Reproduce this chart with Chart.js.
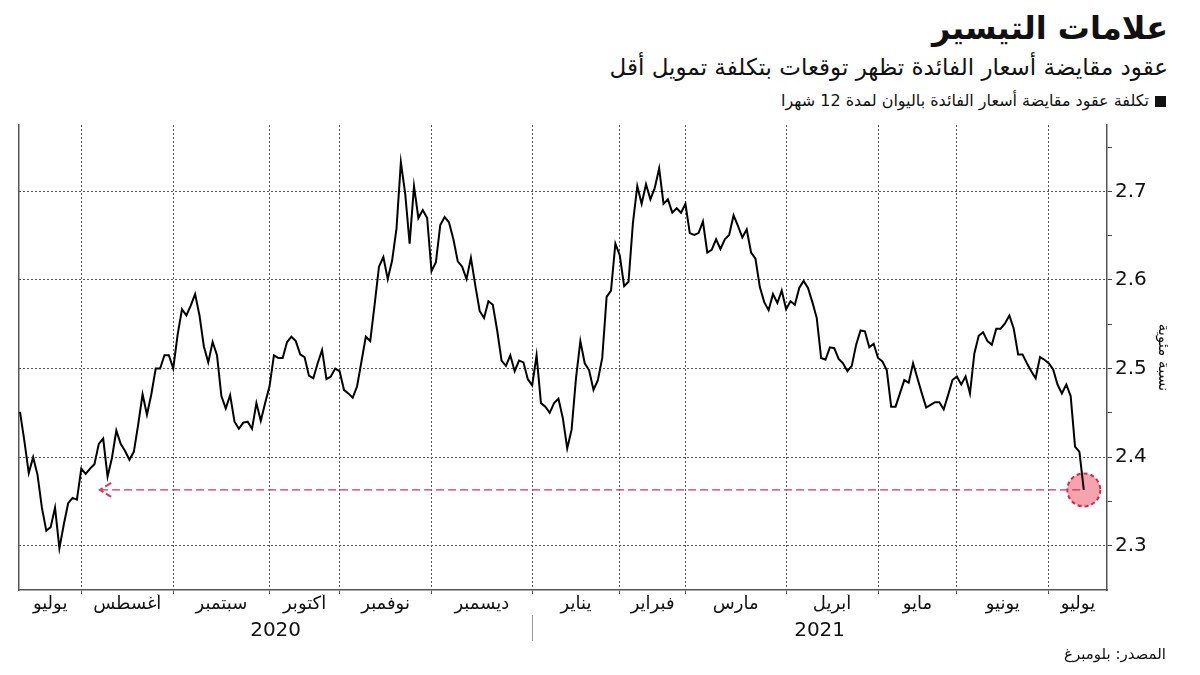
<!DOCTYPE html>
<html lang="ar">
<head>
<meta charset="utf-8">
<script src="https://cdn.jsdelivr.net/npm/chart.js@4.4.0/dist/chart.umd.min.js"></script>
<style>
  html, body { margin: 0; padding: 0; background: #fff; }
  body { width: 1200px; height: 675px; position: relative; overflow: hidden; font-family: 'DejaVu Sans', sans-serif; color: #111; }
  #chart { position: absolute; left: 0; top: 0; }
  .hdr { position: absolute; right: 32px; direction: rtl; text-align: right; white-space: nowrap; }
  #title { top: 9px; font-size: 32px; font-weight: bold; }
  #subtitle { top: 54px; font-size: 23px; }
  #legend { top: 91px; font-size: 16px; right: 34px; }
  #legend .sq { display: inline-block; width: 11px; height: 11px; background: #111; margin-left: 6px; vertical-align: -1px; }
  #source { top: 645px; font-size: 15px; right: 34px; }
</style>
</head>
<body>
<div class="hdr" id="title">علامات التيسير</div>
<div class="hdr" id="subtitle">عقود مقايضة أسعار الفائدة تظهر توقعات بتكلفة تمويل أقل</div>
<div class="hdr" id="legend"><span class="sq"></span>تكلفة عقود مقايضة أسعار الفائدة باليوان لمدة 12 شهرا</div>
<canvas id="chart" width="1200" height="675"></canvas>
<div class="hdr" id="source">المصدر: بلومبرغ</div>

<script>
// Data (one value per trading day, Jul 2020 - Jul 2021)
const monthNames = ['يوليو', 'أغسطس', 'سبتمبر', 'أكتوبر', 'نوفمبر', 'ديسمبر', 'يناير', 'فبراير', 'مارس', 'أبريل', 'مايو', 'يونيو', 'يوليو'];
const yearLabels = ['2020', '2021'];
// trading-day index where each month (Aug 2020 .. Jul 2021) starts
const monthStarts = [14, 35, 57, 73, 94, 117, 137, 152, 175, 196, 214, 235];
const yearStartIndex = 5; // January in monthStarts
const yMajor = [2.3, 2.4, 2.5, 2.6, 2.7];
const yMinor = [2.35, 2.45, 2.55, 2.65, 2.75];
const swapRates = [
    2.451, 2.418, 2.382, 2.400, 2.380, 2.343, 2.317, 2.321, 2.343, 2.297,
    2.324, 2.348, 2.354, 2.352, 2.387, 2.381, 2.387, 2.392, 2.415, 2.421,
    2.378, 2.399, 2.430, 2.415, 2.407, 2.397, 2.406, 2.437, 2.471, 2.448,
    2.471, 2.500, 2.500, 2.515, 2.515, 2.500, 2.538, 2.567, 2.560, 2.571,
    2.584, 2.560, 2.525, 2.507, 2.530, 2.515, 2.469, 2.455, 2.470, 2.440,
    2.432, 2.439, 2.440, 2.432, 2.461, 2.441, 2.461, 2.480, 2.515, 2.512,
    2.512, 2.530, 2.536, 2.531, 2.516, 2.513, 2.492, 2.489, 2.506, 2.521,
    2.488, 2.491, 2.500, 2.497, 2.476, 2.472, 2.467, 2.480, 2.508, 2.536,
    2.531, 2.572, 2.615, 2.626, 2.601, 2.622, 2.658, 2.733, 2.697, 2.641,
    2.706, 2.670, 2.679, 2.670, 2.610, 2.620, 2.662, 2.671, 2.665,
    2.646, 2.621, 2.615, 2.601, 2.625, 2.594, 2.565, 2.557, 2.576, 2.572,
    2.543, 2.509, 2.503, 2.515, 2.497, 2.509, 2.507, 2.488, 2.481, 2.515,
    2.461, 2.457, 2.450, 2.461, 2.466, 2.444, 2.410, 2.431, 2.489, 2.531,
    2.506, 2.498, 2.476, 2.487, 2.512, 2.581, 2.588, 2.641, 2.628, 2.593,
    2.598, 2.664, 2.706, 2.686, 2.708, 2.691, 2.704, 2.726, 2.686,
    2.691, 2.676, 2.681, 2.676, 2.686, 2.653, 2.651, 2.653, 2.666, 2.631,
    2.634, 2.646, 2.635, 2.646, 2.651, 2.673, 2.661, 2.648, 2.657, 2.631,
    2.624, 2.592, 2.575, 2.566, 2.584, 2.574, 2.588, 2.567, 2.576, 2.572,
    2.591, 2.599, 2.591, 2.575, 2.557, 2.512, 2.510, 2.524, 2.523, 2.511,
    2.506, 2.497, 2.503, 2.527, 2.543, 2.542, 2.524, 2.528, 2.512,
    2.508, 2.498, 2.457, 2.457, 2.472, 2.487, 2.484, 2.506, 2.489, 2.472,
    2.456, 2.459, 2.462, 2.462, 2.454, 2.470, 2.487, 2.491, 2.482, 2.491,
    2.472, 2.517, 2.537, 2.541, 2.531, 2.527, 2.545, 2.545, 2.551, 2.560,
    2.545, 2.516, 2.516, 2.506, 2.497, 2.489, 2.513, 2.510, 2.506, 2.499,
    2.482, 2.472, 2.482, 2.469, 2.412, 2.406, 2.363
];
const arrowDay = 18.3; // where the dashed reference line ends on the left

const X_MIN = -0.23, X_MAX = 248.3;
const Y_MIN = 2.25, Y_MAX = 2.775;
const FONT = "'DejaVu Sans', sans-serif";
const GRID = '#555';
const RED = '#d9264a';

const lastIdx = swapRates.length - 1;
const lastVal = swapRates[lastIdx];

// month label / year label positions, centred between boundaries
const bounds = [X_MIN, ...monthStarts, X_MAX];
const monthMids = monthNames.map((_, k) => (bounds[k] + bounds[k + 1]) / 2);
const yearSplit = monthStarts[yearStartIndex];
const yearMids = [(X_MIN + yearSplit) / 2, (yearSplit + X_MAX) / 2];

// Circle, arrow head and year separator
const decorations = {
    id: 'decorations',
    beforeDatasetsDraw(chart) {
        const { ctx, scales: { x, y } } = chart;
        const cx = x.getPixelForValue(lastIdx);
        const cy = y.getPixelForValue(lastVal);
        ctx.save();
        ctx.beginPath();
        ctx.arc(cx, cy, 16.5, 0, Math.PI * 2);
        ctx.fillStyle = '#f5a3ad';
        ctx.fill();
        ctx.setLineDash([4, 3]);
        ctx.lineWidth = 2;
        ctx.strokeStyle = RED;
        ctx.stroke();
        ctx.restore();
    },
    afterDatasetsDraw(chart) {
        const { ctx, scales: { x, y } } = chart;
        const ax = x.getPixelForValue(arrowDay);
        const ay = y.getPixelForValue(lastVal);
        ctx.save();
        ctx.strokeStyle = '#e8385a';
        ctx.lineWidth = 2.2;
        ctx.setLineDash([7, 3]);
        ctx.beginPath();
        ctx.moveTo(ax + 11, ay - 7);
        ctx.lineTo(ax, ay);
        ctx.lineTo(ax + 11, ay + 7);
        ctx.stroke();
        ctx.restore();
    },
    afterDraw(chart) {
        const { ctx, scales } = chart;
        const sx = Math.round(scales.xy.getPixelForValue(yearSplit)) + 0.5;
        ctx.save();
        ctx.strokeStyle = '#999';
        ctx.lineWidth = 1;
        ctx.beginPath();
        ctx.moveTo(sx, scales.xy.top - 1);
        ctx.lineTo(sx, scales.xy.top + 25);
        ctx.stroke();
        ctx.restore();
    }
};

new Chart(document.getElementById('chart'), {
    type: 'line',
    data: {
        datasets: [
            {
                data: swapRates.map((v, i) => ({ x: i, y: v })),
                borderColor: '#000', borderWidth: 2, pointRadius: 0, tension: 0, order: 1
            },
            {
                data: [{ x: arrowDay, y: lastVal }, { x: lastIdx, y: lastVal }],
                borderColor: '#c8346a', borderWidth: 1.3, borderDash: [8, 4], pointRadius: 0, order: 2
            }
        ]
    },
    options: {
        responsive: false,
        animation: false,
        layout: { padding: { top: 125, left: 0, right: 0, bottom: 0 } },
        plugins: { legend: { display: false }, tooltip: { enabled: false } },
        scales: {
            x: {
                type: 'linear', position: 'bottom', min: X_MIN, max: X_MAX, weight: 0,
                afterBuildTicks: s => { s.ticks = monthStarts.map(v => ({ value: v })); },
                ticks: { display: false },
                grid: { color: GRID, tickColor: GRID, tickLength: 4, drawTicks: true },
                border: { display: true, color: '#555', width: 1.5, dash: [2, 2] },
                afterFit: s => { s.height = 4; }
            },
            xm: {
                type: 'linear', position: 'bottom', min: X_MIN, max: X_MAX, weight: 1,
                afterBuildTicks: s => { s.ticks = monthMids.map(v => ({ value: v })); },
                ticks: {
                    callback: (v, i) => monthNames[i], autoSkip: false, maxRotation: 0,
                    font: { family: FONT, size: 18 }, color: '#111', padding: 0
                },
                grid: { display: false, drawTicks: false },
                border: { display: false },
                afterFit: s => { s.height = 22; }
            },
            xy: {
                type: 'linear', position: 'bottom', min: X_MIN, max: X_MAX, weight: 2,
                afterBuildTicks: s => { s.ticks = yearMids.map(v => ({ value: v })); },
                ticks: {
                    callback: (v, i) => yearLabels[i], autoSkip: false, maxRotation: 0,
                    font: { family: FONT, size: 20 }, color: '#111', padding: 3
                },
                grid: { display: false, drawTicks: false },
                border: { display: false },
                afterFit: s => { s.height = 59; }
            },
            yl: {
                type: 'linear', position: 'left', min: Y_MIN, max: Y_MAX,
                ticks: { display: false },
                grid: { drawOnChartArea: false, drawTicks: false },
                border: { display: true, color: '#555', width: 1.5 },
                afterFit: s => { s.width = 19; }
            },
            y: {
                type: 'linear', position: 'right', min: Y_MIN, max: Y_MAX,
                afterBuildTicks: s => {
                    s.ticks = [...yMajor, ...yMinor].sort((a, b) => a - b).map(v => ({ value: v }));
                },
                ticks: {
                    callback: v => yMajor.some(m => Math.abs(m - v) < 1e-6) ? v.toFixed(1) : '',
                    font: { family: FONT, size: 20 }, color: '#111', padding: 3
                },
                grid: {
                    color: c => yMajor.some(m => Math.abs(m - c.tick.value) < 1e-6) ? GRID : 'transparent',
                    tickColor: '#444', tickLength: 5
                },
                border: { display: true, color: '#555', width: 1.5, dash: [2, 2] },
                title: {
                    display: true, text: 'نسبة مئوية', color: '#111',
                    font: { family: FONT, size: 15 }, padding: { top: 28, bottom: 0 }
                },
                afterFit: s => { s.width = 93; }
            }
        }
    },
    plugins: [decorations]
});
</script>
</body>
</html>
